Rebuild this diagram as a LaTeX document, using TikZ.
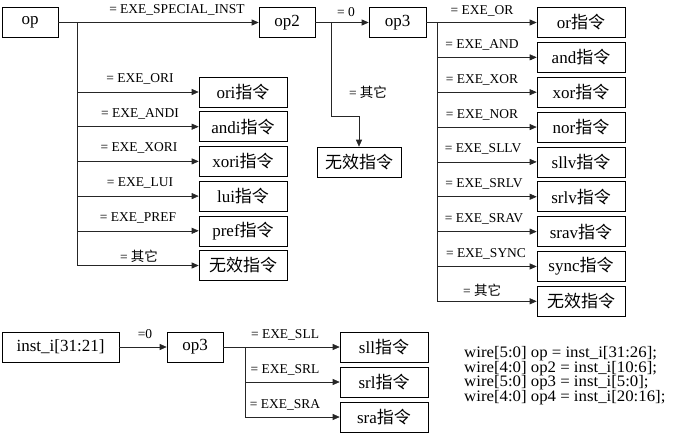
\documentclass[tikz,border=0pt]{standalone}
\usepackage{fontspec}
\setmainfont{Liberation Serif}
\newfontfamily\cjk{Noto Sans CJK SC}
\newfontfamily\codefont{Liberation Serif}[FakeStretch=1.05]
\usetikzlibrary{arrows.meta}
\newcommand{\zl}{{\cjk 指令}}
\tikzset{
  box/.style={draw, line width=0.6pt, minimum height=30pt, inner sep=0pt, font=\fontsize{17}{19}\selectfont},
  ibox/.style={box, minimum width=88pt},
  lbl/.style={font=\fontsize{13.5}{15}\selectfont, inner sep=0pt, anchor=base},
  codeline/.style={font=\codefont\fontsize{16}{18}\selectfont, inner sep=0pt, anchor=base west},
  conn/.style={line width=0.6pt, draw=black!85},
  arr/.style={conn, -{Triangle[length=7pt,width=6pt]}},
}
\begin{document}
\begin{tikzpicture}[x=1pt,y=-1pt]
\useasboundingbox (0,0) rectangle (674,434);
% top row
\node[box, minimum width=56pt] (op) at (30,22.5) {op};
\node[box, minimum width=56pt] (op2) at (287,22.5) {op2};
\node[box, minimum width=57pt] (op3) at (397.5,22.5) {op3};
% left column
\node[ibox] (ori)  at (243,92) {ori\zl};
\node[ibox] (andi) at (243,126.7) {andi\zl};
\node[ibox] (xori) at (243,161.4) {xori\zl};
\node[ibox] (lui)  at (243,196.1) {lui\zl};
\node[ibox] (pref) at (243,230.8) {pref\zl};
\node[ibox] (invA) at (243,265.5) {{\cjk 无效指令}};
% middle
\node[box, minimum width=84pt] (invM) at (359,162) {{\cjk 无效指令}};
% right column
\node[ibox] (or)   at (581,22.5) {or\zl};
\node[ibox] (and)  at (581,57.35) {and\zl};
\node[ibox] (xor)  at (581,92.2) {xor\zl};
\node[ibox] (nor)  at (581,127.05) {nor\zl};
\node[ibox] (sllv) at (581,161.9) {sllv\zl};
\node[ibox] (srlv) at (581,196.75) {srlv\zl};
\node[ibox] (srav) at (581,231.6) {srav\zl};
\node[ibox] (sync) at (581,266.45) {sync\zl};
\node[ibox] (invR) at (581,301.3) {{\cjk 无效指令}};
% bottom
\node[box, minimum width=117pt] (inst) at (60.5,347) {inst\_i[31:21]};
\node[box, minimum width=56pt] (op3b) at (195,347) {op3};
\node[ibox] (sll) at (384,347) {sll\zl};
\node[ibox] (srl) at (384,382) {srl\zl};
\node[ibox] (sra) at (384,417) {sra\zl};

% connectors top
\draw[arr] (op) -- (op2);
\coordinate (b1) at (77,22.5);
\draw[conn] (b1) -- (b1 |- invA.west);
\foreach \n in {ori,andi,xori,lui,pref,invA} \draw[arr] (b1 |- \n.west) -- (\n.west);
\draw[arr] (op2) -- (op3);
\coordinate (b2) at (331,22.5);
\coordinate (c2) at (331,116);
\draw[arr] (b2) -- (c2) -| (invM.north);
\draw[arr] (op3) -- (or);
\coordinate (b3) at (437,22.5);
\draw[conn] (b3) -- (b3 |- invR.west);
\foreach \n in {and,xor,nor,sllv,srlv,srav,sync,invR} \draw[arr] (b3 |- \n.west) -- (\n.west);
% connectors bottom
\draw[arr] (inst) -- (op3b);
\draw[arr] (op3b) -- (sll);
\coordinate (b4) at (245,347);
\draw[conn] (b4) -- (b4 |- sra.west);
\foreach \n in {srl,sra} \draw[arr] (b4 |- \n.west) -- (\n.west);

% labels
\node[lbl] (l0) at (177,13) {= EXE\_SPECIAL\_INST};
\node[lbl] (l1) at (140,82.5) {= EXE\_ORI};
\node[lbl] (l2) at (140,117.2) {= EXE\_ANDI};
\node[lbl] (l3) at (139,151.9) {= EXE\_XORI};
\node[lbl] (l4) at (140,186.6) {= EXE\_LUI};
\node[lbl] (l5) at (138,221.3) {= EXE\_PREF};
\node[lbl] (l6) at (139,261) {= {\cjk 其它}};
\node[lbl] (l7) at (346,16.5) {= 0};
\node[lbl] (l8) at (368,97.5) {= {\cjk 其它}};
\node[lbl] (r1) at (482,14) {= EXE\_OR};
\node[lbl] (r2) at (482,48.35) {= EXE\_AND};
\node[lbl] (r3) at (482,83.2) {= EXE\_XOR};
\node[lbl] (r4) at (482,118.05) {= EXE\_NOR};
\node[lbl] (r5) at (483,152.9) {= EXE\_SLLV};
\node[lbl] (r6) at (484,187.75) {= EXE\_SRLV};
\node[lbl] (r7) at (484,222.6) {= EXE\_SRAV};
\node[lbl] (r8) at (486,257.45) {= EXE\_SYNC};
\node[lbl] (r9) at (482,295) {= {\cjk 其它}};
\node[lbl] (b0) at (145,338.5) {=0};
\node[lbl] (s1) at (285,338) {= EXE\_SLL};
\node[lbl] (s2) at (285,373) {= EXE\_SRL};
\node[lbl] (s3) at (285,408) {= EXE\_SRA};
% code
\node[codeline] (c1) at (464,357.5) {wire[5:0] op = inst\_i[31:26];};
\node[codeline] (c2t) at (464,372.2) {wire[4:0] op2 = inst\_i[10:6];};
\node[codeline] (c3t) at (464,386.9) {wire[5:0] op3 = inst\_i[5:0];};
\node[codeline] (c4t) at (464,401.6) {wire[4:0] op4 = inst\_i[20:16];};
\end{tikzpicture}
\end{document}
